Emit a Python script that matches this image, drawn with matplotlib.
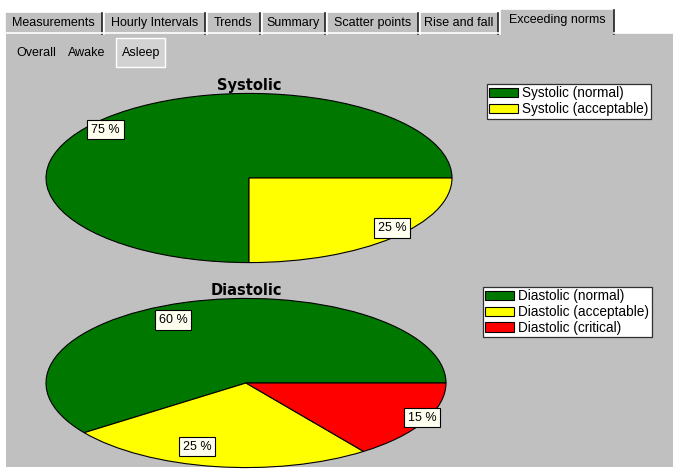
""" Blood pressure report: exceeding norms (asleep) """
import numpy as np
import matplotlib
matplotlib.use("Agg")
import matplotlib.pyplot as plt
from matplotlib.patches import Rectangle

# chart data
tabs = ["Measurements", "Hourly Intervals", "Trends", "Summary",
        "Scatter points", "Rise and fall", "Exceeding norms"]
subtabs = ["Overall", "Awake", "Asleep"]

sys_title = "Systolic"
sys_labels = ["Systolic (normal)", "Systolic (acceptable)"]
sys_values = [75, 25]

dia_title = "Diastolic"
dia_labels = ["Diastolic (normal)", "Diastolic (acceptable)", "Diastolic (critical)"]
dia_values = [60, 25, 15]

GREEN, YELLOW, RED = "#007800", "#FFFF00", "#FF0000"
GRAY = "#C0C0C0"
W, H = 673, 469
UI_FONT = ["Liberation Sans", "DejaVu Sans"]

fig = plt.figure(figsize=(W / 100, H / 100), dpi=100)
fig.patch.set_facecolor("white")

# background axes in pixel units for the window chrome
bg = fig.add_axes([0, 0, 1, 1])
bg.set_xlim(0, W)
bg.set_ylim(H, 0)
bg.axis("off")

# main gray panel
bg.add_patch(Rectangle((6, 33), W - 6, 434, fc=GRAY, ec="none"))

# tab strip
tab_edges = [5, 104, 207, 262, 327, 420, 500, 614]
for i, name in enumerate(tabs):
    x0, x1 = tab_edges[i], tab_edges[i + 1] - 2
    selected = i == len(tabs) - 1
    top = 9 if selected else 12
    if selected:
        x1 = tab_edges[i + 1]
    bg.add_patch(Rectangle((x0, top), x1 - x0, 34 - top, fc=GRAY, ec="none"))
    bg.plot([x0, x0, x1], [34, top, top], color="white", lw=1.2)
    bg.plot([x1, x1], [top + 1, 34], color="#202020", lw=1.2)
    ty = 20.5 if selected else 23
    bg.text((x0 + x1) / 2, ty, name, ha="center", va="center",
            fontsize=9, family=UI_FONT, color="black")
# highlight line at top of panel (not under the selected tab)
bg.plot([6, 500], [33.5, 33.5], color="white", lw=1.2)
bg.plot([614, W], [33.5, 33.5], color="white", lw=1.2)

# sub tabs
bg.add_patch(Rectangle((116, 38), 49, 29, fc="#D2D2D2", ec="white", lw=1))
sub_x = [16, 68, 122]
for x, name in zip(sub_x, subtabs):
    bg.text(x, 53, name, ha="left", va="center", fontsize=9,
            family=UI_FONT, color="black")


def px_axes(x0, y0, x1, y1):
    return fig.add_axes([x0 / W, 1 - y1 / H, (x1 - x0) / W, (y1 - y0) / H])


def draw_pie(ax, values, colors, labels, title, label_pos, legend_xy):
    wedges, _, autotexts = ax.pie(
        values, colors=colors, startangle=0, counterclock=True,
        autopct=lambda p: f"{p:.0f} %",
        wedgeprops=dict(edgecolor="black", linewidth=0.8),
        textprops=dict(fontsize=9, family=UI_FONT, color="black"))
    ax.set_aspect("auto")
    ax.set_xlim(-1.005, 1.005)
    ax.set_ylim(-1.005, 1.005)
    for w in wedges:
        w.set_clip_on(False)
    for t, (ang, dist) in zip(autotexts, label_pos):
        a = np.deg2rad(ang)
        t.set_position((dist * np.cos(a), dist * np.sin(a)))
        t.set_bbox(dict(boxstyle="square,pad=0.3", fc="#FFFFF0",
                        ec="black", lw=0.8))
    ax.set_title(title, fontsize=10.5, fontweight="bold",
                 family="DejaVu Sans", pad=1.5)
    leg = ax.legend(wedges, labels, loc="upper left",
                    bbox_to_anchor=(legend_xy[0] / W, 1 - legend_xy[1] / H),
                    bbox_transform=fig.transFigure, borderaxespad=0,
                    frameon=True, fancybox=False, framealpha=1,
                    edgecolor="#303030", facecolor="white",
                    prop=dict(family=UI_FONT, size=9.8),
                    handlelength=2.1, handleheight=0.7, handletextpad=0.3,
                    borderpad=0.18, labelspacing=0.12)
    leg.get_frame().set_linewidth(0.9)


ax1 = px_axes(45, 93, 453, 263)
draw_pie(ax1, sys_values, [GREEN, YELLOW], sys_labels, sys_title,
         [(141, 0.91), (320, 0.92)], (487, 84))

ax2 = px_axes(45, 298, 447, 468)
draw_pie(ax2, dia_values, [GREEN, YELLOW, RED], dia_labels, dia_title,
         [(116, 0.83), (252, 0.79), (335, 0.97)], (483, 287))

fig.savefig("out.png", dpi=100)
